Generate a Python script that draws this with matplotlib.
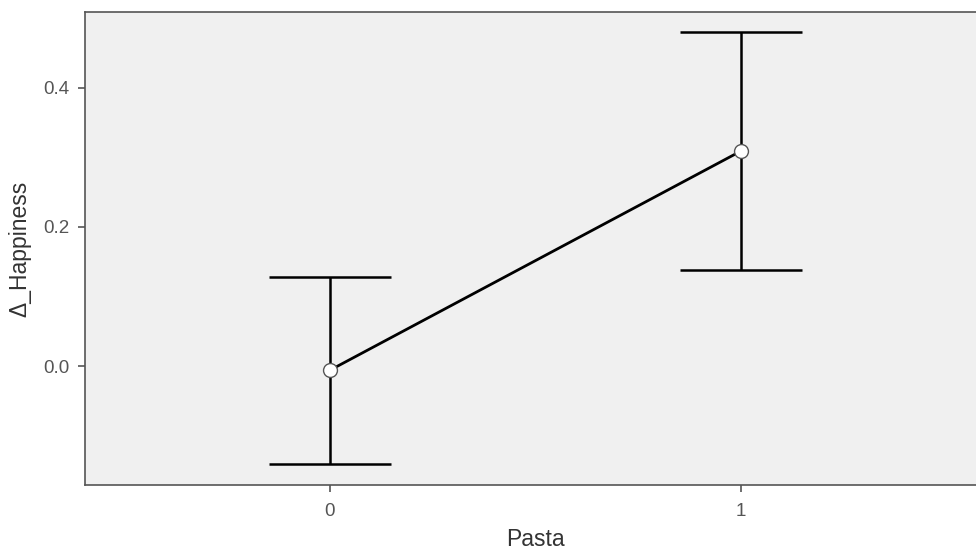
import matplotlib.pyplot as plt

plt.rcParams['font.family'] = ['Liberation Sans', 'DejaVu Sans']

pasta = [0, 1]
happiness = [-0.006, 0.309]
lower = [-0.141, 0.138]
upper = [0.128, 0.480]

fig = plt.figure(figsize=(9.76, 5.52), dpi=100)
ax = fig.add_axes([0.0871, 0.1214, 0.923, 0.857])
ax.set_facecolor("#f0f0f0")

yerr = [[h - l for h, l in zip(happiness, lower)],
        [u - h for h, u in zip(happiness, upper)]]
ax.errorbar(pasta, happiness, yerr=yerr, fmt="none", ecolor="black",
            elinewidth=1.8, capsize=44, capthick=1.8, zorder=2)
ax.plot(pasta, happiness, color="black", lw=2.0, zorder=3)
ax.plot(pasta, happiness, "o", ms=10, mfc="white", mec="#555555", mew=1.0, zorder=4)

ax.set_xlim(-0.596, 1.596)
ax.set_ylim(-0.171, 0.509)
ax.set_xticks(pasta)
ax.set_xticklabels(["0", "1"])
ax.set_yticks([0.0, 0.2, 0.4])
ax.set_yticklabels(["0.0", "0.2", "0.4"])
for s in ax.spines.values():
    s.set_color("#555555")
    s.set_linewidth(1.2)
ax.tick_params(colors="#555555", labelcolor="#555555", labelsize=13.5, length=5, width=1.2)
ax.tick_params(axis="x", pad=8)
ax.tick_params(axis="y", pad=6)
ax.set_xlabel("Pasta", fontsize=16.5, color="#333333", labelpad=6)
ax.set_ylabel("Δ_Happiness", fontsize=16.5, color="#333333", labelpad=9)

plt.savefig("out.png", dpi=100)
